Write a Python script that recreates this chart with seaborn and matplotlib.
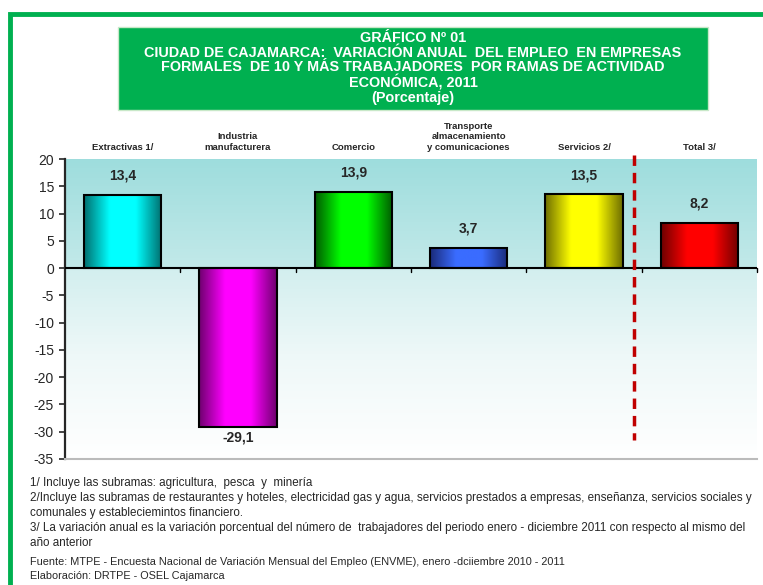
import numpy as np
import pandas as pd
import matplotlib
matplotlib.use('Agg')
import matplotlib.pyplot as plt
import matplotlib.colors as mcolors
from matplotlib.patches import Rectangle
import seaborn as sns

# datos del grafico
ramas = ['Extractivas 1/', 'Industria\nmanufacturera', 'Comercio',
         'Transporte\nalmacenamiento\ny comunicaciones', 'Servicios 2/', 'Total 3/']
variacion = [13.4, -29.1, 13.9, 3.7, 13.5, 8.2]
color_centro = ['#00ffff', '#ff00ff', '#00ff00', '#3a6cff', '#ffff00', '#ff0000']
color_borde = ['#006e6e', '#6e006e', '#005a00', '#1a2a78', '#6e6e00', '#6e0000']
y_ticks = [20, 15, 10, 5, 0, -5, -10, -15, -20, -25, -30, -35]

notas = [
    '1/ Incluye las subramas: agricultura,  pesca  y  minería',
    '2/Incluye las subramas de restaurantes y hoteles, electricidad gas y agua, servicios prestados a empresas, enseñanza, servicios sociales y',
    'comunales y estableciemintos financiero.',
    '3/ La variación anual es la variación porcentual del número de  trabajadores del periodo enero - diciembre 2011 con respecto al mismo del',
    'año anterior',
]
fuente = ['Fuente: MTPE - Encuesta Nacional de Variación Mensual del Empleo (ENVME), enero -dciiembre 2010 - 2011',
          'Elaboración: DRTPE - OSEL Cajamarca']

titulo = ('GRÁFICO Nº 01\nCIUDAD DE CAJAMARCA:  VARIACIÓN ANUAL  DEL EMPLEO  EN EMPRESAS\n'
          'FORMALES  DE 10 Y MÁS TRABAJADORES  POR RAMAS DE ACTIVIDAD\nECONÓMICA, 2011\n(Porcentaje)')

sns.set_style('white')
plt.rcParams['font.family'] = ['Liberation Sans', 'DejaVu Sans']
plt.rcParams['axes.unicode_minus'] = False

W, H = 763, 585
fig = plt.figure(figsize=(W / 100, H / 100), dpi=100)

# marco verde
fig.patches.append(Rectangle((10 / W, -0.1), 1.2, (H - 14) / H + 0.1, transform=fig.transFigure,
                             fill=False, edgecolor='#00b050', linewidth=3.5))

# caja del titulo
fig.patches.append(Rectangle((118 / W, 1 - 110 / H), (708 - 118) / W, (110 - 27) / H,
                             transform=fig.transFigure, facecolor='#00b050',
                             edgecolor='#c8e8c8', linewidth=1))
fig.text(413 / W, 1 - 68 / H, titulo, ha='center', va='center', color='white',
         fontsize=10.4, fontweight='bold', linespacing=1.04)

ax = fig.add_axes([65 / W, (H - 459) / H, (757 - 65) / W, 300 / H])

df = pd.DataFrame({'rama': ramas, 'valor': variacion})
sns.barplot(data=df, x='rama', y='valor', hue='rama', palette=color_centro,
            legend=False, width=0.67, edgecolor='black', linewidth=1.5, ax=ax, zorder=3)

ax.set_xlim(-0.5, 5.5)
ax.set_ylim(-35, 20)

# fondo degradado
grad = mcolors.LinearSegmentedColormap.from_list(
    'fondo', [(0, '#ffffff'), (0.35, '#eef8f8'), (0.63, '#d3efef'),
              (0.64, '#c2e9e9'), (1, '#9edddd')])
ax.imshow(np.linspace(0, 1, 256).reshape(-1, 1), cmap=grad, aspect='auto',
          extent=(-0.5, 5.5, -35, 20), origin='lower', zorder=0)

# degradado horizontal en cada barra
for p, c0, c1 in zip(ax.patches, color_borde, color_centro):
    cm = mcolors.LinearSegmentedColormap.from_list('b', [c0, c1, c1, c0])
    x0, y0 = p.get_x(), p.get_y()
    w, h = p.get_width(), p.get_height()
    im = ax.imshow(np.linspace(0, 1, 256).reshape(1, -1), cmap=cm, aspect='auto',
                   extent=(x0, x0 + w, min(y0, y0 + h), max(y0, y0 + h)), zorder=3.5)
    im.set_clip_path(p)
    p.set_zorder(4)
    p.set_facecolor('none')

# etiquetas de valores
for i, v in enumerate(variacion):
    off = 14 if v > 0 else -8
    ax.annotate(f'{v:.1f}'.replace('.', ','), (i, v), xytext=(0, off),
                textcoords='offset points', ha='center', va='center',
                fontsize=10, fontweight='bold', zorder=6)

# linea del cero y marcas
ax.axhline(0, color='black', linewidth=1.5, zorder=5)
for b in np.arange(0.5, 6, 1):
    ax.plot([b, b], [0, -0.7], color='black', linewidth=1, zorder=5, clip_on=False)

# linea punteada antes del total
ax.plot([4.43, 4.43], [20.8, -31.6], color='#c00000', linewidth=2.5,
        linestyle=(0, (3, 2)), zorder=6, clip_on=False)

# nombres de categorias arriba
for i, r in enumerate(ramas):
    ax.annotate(r, (i, 1), xycoords=('data', 'axes fraction'), xytext=(0, 5),
                textcoords='offset points', ha='center', va='bottom',
                fontsize=6.8, fontweight='bold', linespacing=1.25)

ax.set_xticks([])
ax.set_xlabel('')
ax.set_ylabel('')
ax.set_yticks(y_ticks)
ax.tick_params(axis='y', direction='out', length=4, width=1.2, labelsize=10, pad=4, left=True)
for s in ['top', 'right']:
    ax.spines[s].set_visible(False)
ax.spines['left'].set_linewidth(1.6)
ax.spines['bottom'].set_color('#bbbbbb')
ax.spines['bottom'].set_linewidth(1.5)

# notas al pie
fam = ['Liberation Sans Narrow', 'Liberation Sans', 'DejaVu Sans']
for k, t in enumerate(notas):
    fig.text(30 / W, 1 - (483 + 15 * k) / H, t, fontsize=8.4, va='center', family=fam)
for k, t in enumerate(fuente):
    fig.text(30 / W, 1 - (562 + 14 * k) / H, t, fontsize=7.8, va='center', family=fam)

fig.savefig('out.png', dpi=100)
